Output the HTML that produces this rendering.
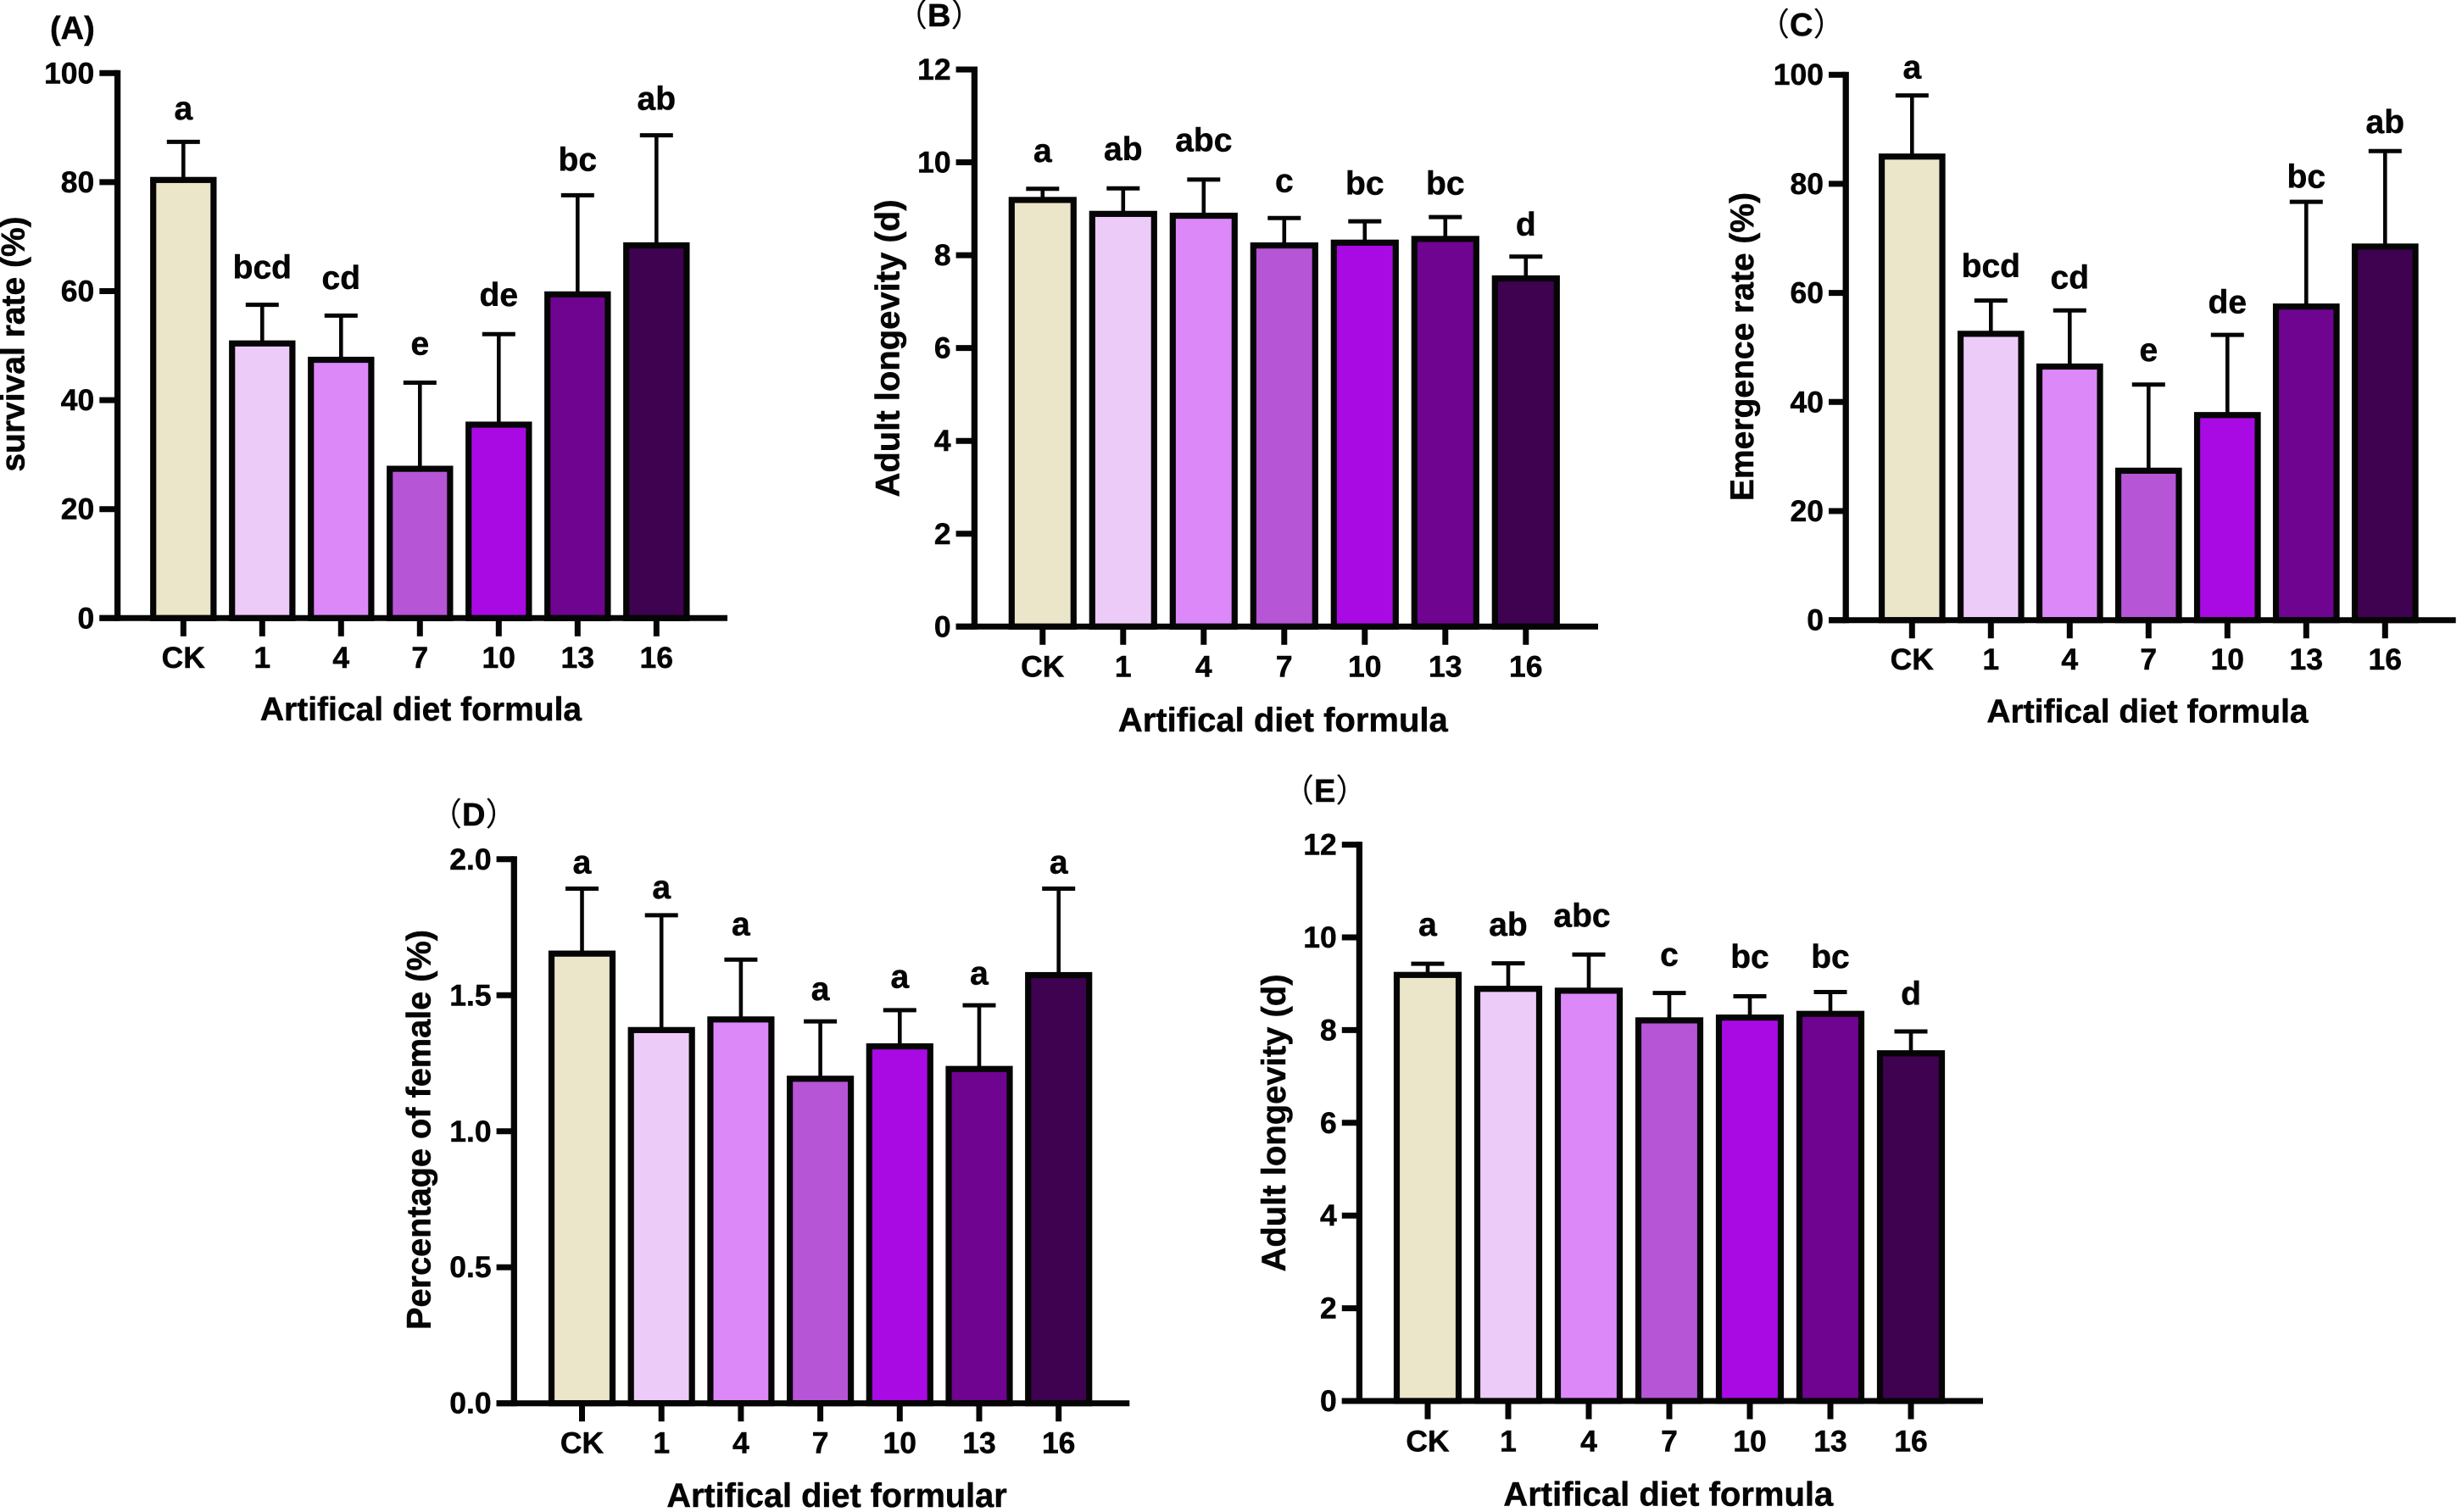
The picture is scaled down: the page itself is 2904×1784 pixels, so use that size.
<!DOCTYPE html>
<html lang="en">
<head>
<meta charset="utf-8">
<title>Artificial diet formula bar charts</title>
<style>
html,body{margin:0;padding:0;background:#fff;}
#figure{display:block;width:2904px;height:1784px;background:#fff;}
text{font-family:"Liberation Sans","Noto Sans CJK SC",sans-serif;font-weight:700;fill:#050505;stroke:#050505;stroke-width:0.5px;}
</style>
</head>
<body>
<svg id="figure" xmlns="http://www.w3.org/2000/svg" width="2904" height="1784" viewBox="0 0 2904 1784"></svg>
<script>
const categories = ["CK", "1", "4", "7", "10", "13", "16"];
const barColors = ["#EBE6C9", "#EDCBF8", "#DC88F8", "#B655D6", "#A90AE3", "#6F0490", "#3E0250"];

const ticks0to100 = [0, 20, 40, 60, 80, 100];
const ticks0to12 = [0, 2, 4, 6, 8, 10, 12];
const ticks0to2 = ["0.0", "0.5", "1.0", "1.5", "2.0"];

const survivalMeans = [80.4, 50.4, 47.4, 27.4, 35.5, 59.4, 68.4];
const survivalErrors = [7.0, 7.1, 8.1, 15.8, 16.6, 18.2, 20.2];
const survivalLetters = ["a", "bcd", "cd", "e", "de", "bc", "ab"];
const survivalLetterLevels = [91.5, 62.3, 60.4, 48.3, 57.3, 82.1, 93.3];

const longevityMeansB = [9.19, 8.89, 8.85, 8.21, 8.27, 8.35, 7.5];
const longevityErrorsB = [0.24, 0.55, 0.78, 0.59, 0.46, 0.47, 0.47];
const longevityLettersB = ["a", "ab", "abc", "c", "bc", "bc", "d"];
const longevityLetterLevelsB = [10.01, 10.05, 10.24, 9.36, 9.31, 9.31, 8.42];

const emergenceMeans = [85.0, 52.5, 46.5, 27.4, 37.6, 57.5, 68.5];
const emergenceErrors = [11.2, 6.1, 10.3, 15.8, 14.7, 19.2, 17.5];
const emergenceLetters = ["a", "bcd", "cd", "e", "de", "bc", "ab"];
const emergenceLetterLevels = [99.3, 62.9, 60.8, 47.5, 56.3, 79.3, 89.3];

const femaleMeans = [1.653, 1.372, 1.411, 1.193, 1.312, 1.229, 1.574];
const femaleErrors = [0.239, 0.422, 0.22, 0.211, 0.133, 0.234, 0.318];
const femaleLetters = ["a", "a", "a", "a", "a", "a", "a"];
const femaleLetterLevels = [1.948, 1.856, 1.72, 1.482, 1.528, 1.54, 1.948];

const longevityMeansE = [9.19, 8.89, 8.85, 8.21, 8.27, 8.35, 7.5];
const longevityErrorsE = [0.24, 0.55, 0.78, 0.59, 0.46, 0.47, 0.47];
const longevityLettersE = ["a", "ab", "abc", "c", "bc", "bc", "d"];
const longevityLetterLevelsE = [10.04, 10.04, 10.23, 9.39, 9.34, 9.34, 8.55];

const panels = [
  { id: "a", tag: "(A)", plain: true, tagX: 59, tagY: 46,
    axisX: 138.6, zeroY: 729.3, topY: 86.3, firstX: 216.3, stepX: 93, tickLeft: 117.3, endX: 858, barW: 71.2, labelDrop: 58.7,
    yMax: 100, ticks: ticks0to100, means: survivalMeans, errors: survivalErrors, letters: survivalLetters, levels: survivalLetterLevels,
    yTitle: "survival rate (%)", yTitleX: 28.7, yTitleY: 406, xTitle: "Artifical diet formula", xTitleX: 496.5, xTitleY: 850, titleSize: 39 },
  { id: "b", tag: "B", tagX: 1056, tagY: 31,
    axisX: 1149.4, zeroY: 739.3, topY: 82, firstX: 1229.8, stepX: 95, tickLeft: 1127.6, endX: 1885, barW: 73, labelDrop: 59,
    yMax: 12, ticks: ticks0to12, means: longevityMeansB, errors: longevityErrorsB, letters: longevityLettersB, levels: longevityLetterLevelsB,
    yTitle: "Adult longevity (d)", yTitleX: 1060.3, yTitleY: 411, xTitle: "Artifical diet formula", xTitleX: 1513.3, xTitleY: 863, titleSize: 40 },
  { id: "c", tag: "C", tagX: 2073, tagY: 42,
    axisX: 2177.2, zeroY: 731.7, topY: 88.2, firstX: 2255.3, stepX: 93, tickLeft: 2157, endX: 2896.7, barW: 71.5, labelDrop: 58.3,
    yMax: 100, ticks: ticks0to100, means: emergenceMeans, errors: emergenceErrors, letters: emergenceLetters, levels: emergenceLetterLevels,
    yTitle: "Emergence rate (%)", yTitleX: 2068, yTitleY: 409, xTitle: "Artifical diet formula", xTitleX: 2533, xTitleY: 852.5, titleSize: 39 },
  { id: "d", tag: "D", tagX: 507, tagY: 974,
    axisX: 606.3, zeroY: 1655.7, topY: 1013.8, firstX: 686.5, stepX: 93.7, tickLeft: 585.6, endX: 1332.3, barW: 72, labelDrop: 58.6,
    yMax: 2, ticks: ticks0to2, means: femaleMeans, errors: femaleErrors, letters: femaleLetters, levels: femaleLetterLevels,
    yTitle: "Percentage of female (%)", yTitleX: 507.5, yTitleY: 1333, xTitle: "Artifical diet formular", xTitleX: 987, xTitleY: 1778, titleSize: 39.7 },
  { id: "e", tag: "E", tagX: 1512, tagY: 946,
    axisX: 1603.4, zeroY: 1653, topY: 996.6, firstX: 1684, stepX: 95, tickLeft: 1582.8, endX: 2339, barW: 73, labelDrop: 59.7,
    yMax: 12, ticks: ticks0to12, means: longevityMeansE, errors: longevityErrorsE, letters: longevityLettersE, levels: longevityLetterLevelsE,
    letterNudge: { 2: -8 },
    yTitle: "Adult longevity (d)", yTitleX: 1516, yTitleY: 1325, xTitle: "Artifical diet formula", xTitleX: 1967.8, xTitleY: 1776.7, titleSize: 40 }
];

const SVG_NS = "http://www.w3.org/2000/svg";
const figure = document.getElementById("figure");

function make(parent, tag, attrs) {
  const el = document.createElementNS(SVG_NS, tag);
  for (const key in attrs) el.setAttribute(key, attrs[key]);
  parent.appendChild(el);
  return el;
}

function drawPanel(p) {
  const yScale = function (v) { return p.zeroY - (Number(v) / p.yMax) * (p.zeroY - p.topY); };
  const xScale = function (i) { return p.firstX + i * p.stepX; };

  const group = make(figure, "g", {});
  
  

  // panel tag
  const tagText = make(group, "text", { x: p.tagX, y: p.tagY, "font-size": 38 });
  
  
  if (p.plain) {
    tagText.textContent = p.tag;
  } else {
    const open = make(tagText, "tspan", { "font-weight": 400, "stroke-width": 0 });
    open.textContent = "（";
    const mid = make(tagText, "tspan", {});
    mid.textContent = p.tag;
    const close = make(tagText, "tspan", { "font-weight": 400, "stroke-width": 0 });
    close.textContent = "）";
  }

  // error bars (under the bars)
  p.means.forEach(function (m, i) {
    const cx = xScale(i);
    const capY = yScale(m + p.errors[i]);
    const err = make(group, "g", { stroke: "#050505", fill: "none" });
    
    
    make(err, "line", { x1: cx, x2: cx, y1: yScale(m), y2: capY, "stroke-width": 4.6 });
    make(err, "line", { x1: cx - 19.5, x2: cx + 19.5, y1: capY, y2: capY, "stroke-width": 5 });
  });

  // bars
  p.means.forEach(function (m, i) {
    const top = yScale(m);
    const bar = make(group, "rect", {
      x: xScale(i) - p.barW / 2, y: top, width: p.barW, height: p.zeroY - top,
      fill: barColors[i], stroke: "#050505", "stroke-width": 7.2
    });
    
    
  });

  // significance letters
  p.letters.forEach(function (letter, i) {
    const nudge = (p.letterNudge && p.letterNudge[i]) || 0;
    const t = make(group, "text", { x: xScale(i) + nudge, y: yScale(p.levels[i]), "font-size": 39, "text-anchor": "middle" });
    t.textContent = letter;
    
    
  });

  // y axis
  const yAxis = make(group, "g", {});
  
  
  make(yAxis, "line", { x1: p.axisX, x2: p.axisX, y1: p.topY - 3.5, y2: p.zeroY + 3.5, stroke: "#050505", "stroke-width": 7.3 });
  p.ticks.forEach(function (tick) {
    const y = yScale(tick);
    make(yAxis, "line", { x1: p.tickLeft, x2: p.axisX, y1: y, y2: y, stroke: "#050505", "stroke-width": 7 });
    const label = make(yAxis, "text", { x: p.tickLeft - 6, y: y + 12, "font-size": 35.5, "text-anchor": "end" });
    label.textContent = tick;
    
    
  });

  // x axis
  const xAxis = make(group, "g", {});
  
  
  make(xAxis, "line", { x1: p.tickLeft, x2: p.endX, y1: p.zeroY, y2: p.zeroY, stroke: "#050505", "stroke-width": 7 });
  categories.forEach(function (cat, i) {
    const x = xScale(i);
    make(xAxis, "line", { x1: x, x2: x, y1: p.zeroY, y2: p.zeroY + 21.5, stroke: "#050505", "stroke-width": 7 });
    const label = make(xAxis, "text", { x: x, y: p.zeroY + p.labelDrop, "font-size": 35.5, "text-anchor": "middle" });
    label.textContent = cat;
    
    
  });

  // axis titles
  const xTitle = make(group, "text", { x: p.xTitleX, y: p.xTitleY, "font-size": p.titleSize, "text-anchor": "middle" });
  xTitle.textContent = p.xTitle;
  
  

  const yTitle = make(group, "text", {
    x: p.yTitleX, y: p.yTitleY, "font-size": p.titleSize, "text-anchor": "middle",
    transform: "rotate(-90 " + p.yTitleX + " " + p.yTitleY + ")"
  });
  yTitle.textContent = p.yTitle;
  
  
}

panels.forEach(drawPanel);
</script>
</body>
</html>
